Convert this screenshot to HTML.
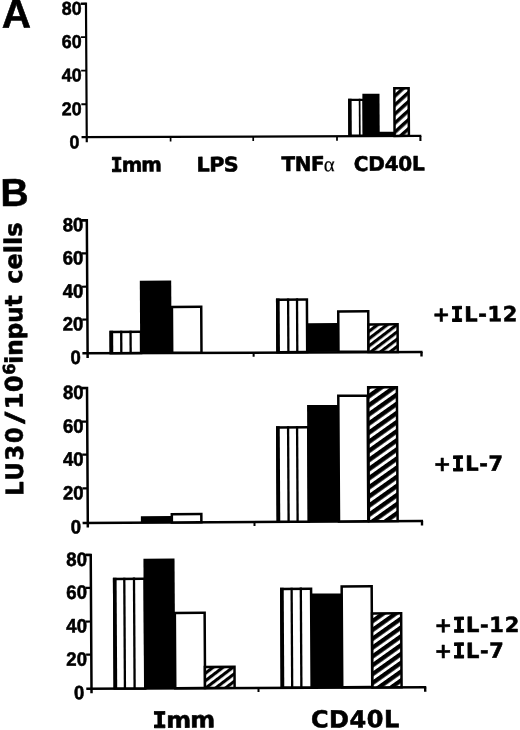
<!DOCTYPE html>
<html lang="en">
<head>
<meta charset="utf-8">
<title>Figure</title>
<style>
html,body{margin:0;padding:0;background:#fff;}
body{width:520px;height:730px;overflow:hidden;}
svg{display:block;filter:blur(0.4px);}
text{fill:#000;stroke:#000;stroke-width:0.55px;stroke-linejoin:round;}
.n{font-family:"Liberation Sans",sans-serif;font-weight:700;stroke-width:0.55px;}
.v{font-family:"DejaVu Sans","Liberation Sans",sans-serif;font-weight:700;}
.m{font-family:"DejaVu Sans Mono","Liberation Mono",monospace;font-weight:700;stroke-width:0.9px;}
.s{font-family:"Liberation Serif","DejaVu Serif",serif;font-weight:400;stroke-width:0.15px;}
</style>
</head>
<body>
<svg width="520" height="730" viewBox="0 0 520 730">
<defs>
<pattern id="hA" width="6.69" height="6.69" patternUnits="userSpaceOnUse" patternTransform="rotate(-42) translate(0 0.9)"><rect x="0" y="0" width="6.69" height="6.69" fill="#fff"/><rect x="0" y="0" width="6.69" height="3.48" fill="#000"/></pattern>
<pattern id="hB1" width="5.83" height="5.83" patternUnits="userSpaceOnUse" patternTransform="rotate(-37) translate(0 1.84)"><rect x="0" y="0" width="5.83" height="5.83" fill="#fff"/><rect x="0" y="0" width="5.83" height="3.21" fill="#000"/></pattern>
<pattern id="hB2" width="7.45" height="7.45" patternUnits="userSpaceOnUse" patternTransform="rotate(-35) translate(0 -2.05)"><rect x="0" y="0" width="7.45" height="7.45" fill="#fff"/><rect x="0" y="0" width="7.45" height="4.4" fill="#000"/></pattern>
<pattern id="hB3a" width="5.99" height="5.99" patternUnits="userSpaceOnUse" patternTransform="rotate(-37) translate(0 -0.5)"><rect x="0" y="0" width="5.99" height="5.99" fill="#fff"/><rect x="0" y="0" width="5.99" height="3.17" fill="#000"/></pattern>
<pattern id="hB3b" width="7.21" height="7.21" patternUnits="userSpaceOnUse" patternTransform="rotate(-35) translate(0 -0.95)"><rect x="0" y="0" width="7.21" height="7.21" fill="#fff"/><rect x="0" y="0" width="7.21" height="4.25" fill="#000"/></pattern>
</defs>
<rect x="0" y="0" width="520" height="730" fill="#fff"/>
<g transform="rotate(-0.33 260 365)">
<path d="M82.86 2.7H88.06V141.3" fill="none" stroke="#000" stroke-width="2.2" stroke-linejoin="miter"/>
<line x1="82.86" y1="136.2" x2="422.61" y2="136.9" stroke="#000" stroke-width="2.2"/>
<line x1="82.86" y1="2.7" x2="88.06" y2="2.7" stroke="#000" stroke-width="1.9"/>
<line x1="82.86" y1="36.1" x2="88.06" y2="36.1" stroke="#000" stroke-width="1.9"/>
<line x1="82.86" y1="69.6" x2="88.06" y2="69.6" stroke="#000" stroke-width="1.9"/>
<line x1="82.86" y1="103.2" x2="88.06" y2="103.2" stroke="#000" stroke-width="1.9"/>
<line x1="171.91" y1="136.38" x2="171.91" y2="140.88" stroke="#000" stroke-width="1.7"/>
<line x1="254.51" y1="136.55" x2="254.51" y2="141.05" stroke="#000" stroke-width="1.7"/>
<line x1="338.31" y1="136.73" x2="338.31" y2="141.23" stroke="#000" stroke-width="1.7"/>
<line x1="421.71" y1="136.9" x2="421.71" y2="142" stroke="#000" stroke-width="2.1"/>
<text transform="translate(83.62 13.57) scale(0.96 1)" font-size="18.6" text-anchor="end" class="n">80</text>
<text transform="translate(83.43 46.97) scale(0.96 1)" font-size="18.6" text-anchor="end" class="n">60</text>
<text transform="translate(83.23 80.47) scale(0.96 1)" font-size="18.6" text-anchor="end" class="n">40</text>
<text transform="translate(83.04 114.07) scale(0.96 1)" font-size="18.6" text-anchor="end" class="n">20</text>
<text transform="translate(80.75 147.36) scale(0.96 1)" font-size="18.6" text-anchor="end" class="n">0</text>
<rect x="350.73" y="100.46" width="14.4" height="35.75" fill="#fff" stroke="#000" stroke-width="2.2"/>
<rect x="349.63" y="99.36" width="3.5" height="36.85" fill="#000"/>
<rect x="360.28" y="99.36" width="1.7" height="36.85" fill="#000"/>
<rect x="363.94" y="94.44" width="17.1" height="41.76" fill="#000"/>
<rect x="380.33" y="132.5" width="15.4" height="3.7" fill="#000"/>
<rect x="395.91" y="89.07" width="14.3" height="47.64" fill="url(#hA)" stroke="#000" stroke-width="2.5"/>
<text transform="translate(111.91 170.94) scale(0.99 1)" font-size="20" class="v" text-anchor="start" letter-spacing="-1.1" ><tspan class="m">I</tspan>mm</text>
<text transform="translate(197.71 171.23) scale(1.04 1)" font-size="20" class="v" text-anchor="start" letter-spacing="-0.6" >LPS</text>
<text transform="translate(282.52 171.12) scale(1 1)" font-size="20" class="v" text-anchor="start" letter-spacing="-0.4" >TNF<tspan class="s" font-size="21" dx="-0.6" dy="0.5">α</tspan></text>
<text transform="translate(354.92 171.44) scale(1.005 1)" font-size="20" class="v" text-anchor="start" letter-spacing="-0.3" >CD40L</text>
<text transform="translate(3.64 26.21) scale(1 1)" font-size="40.5" class="n" text-anchor="start" letter-spacing="0" >A</text>
<text transform="translate(1.42 204.51) scale(1 1)" font-size="39" class="n" text-anchor="start" letter-spacing="0" >B</text>
<path d="M82.47 219.31H87.67V356.91" fill="none" stroke="#000" stroke-width="2.5" stroke-linejoin="miter"/>
<line x1="82.47" y1="352.31" x2="422.62" y2="352.91" stroke="#000" stroke-width="2.5"/>
<line x1="82.47" y1="219.31" x2="87.67" y2="219.31" stroke="#000" stroke-width="2.2"/>
<line x1="82.47" y1="252.41" x2="87.67" y2="252.41" stroke="#000" stroke-width="2.2"/>
<line x1="82.47" y1="285.71" x2="87.67" y2="285.71" stroke="#000" stroke-width="2.2"/>
<line x1="82.47" y1="318.51" x2="87.67" y2="318.51" stroke="#000" stroke-width="2.2"/>
<line x1="253.67" y1="352.61" x2="253.67" y2="356.61" stroke="#000" stroke-width="2"/>
<line x1="421.57" y1="352.91" x2="421.57" y2="357.51" stroke="#000" stroke-width="2.4"/>
<text transform="translate(84.17 230.28) scale(0.96 1)" font-size="19.4" text-anchor="end" class="n">80</text>
<text transform="translate(83.98 263.38) scale(0.96 1)" font-size="19.4" text-anchor="end" class="n">60</text>
<text transform="translate(83.79 296.68) scale(0.96 1)" font-size="19.4" text-anchor="end" class="n">40</text>
<text transform="translate(83.6 329.48) scale(0.96 1)" font-size="19.4" text-anchor="end" class="n">20</text>
<text transform="translate(80.81 362.87) scale(0.96 1)" font-size="19.4" text-anchor="end" class="n">0</text>
<rect x="110.89" y="331.18" width="30.3" height="21.13" fill="#fff" stroke="#000" stroke-width="2.5"/>
<rect x="109.64" y="329.93" width="3.7" height="22.38" fill="#000"/>
<rect x="120.24" y="329.93" width="2.3" height="22.38" fill="#000"/>
<rect x="129.59" y="329.93" width="2.3" height="22.38" fill="#000"/>
<rect x="140.28" y="280.1" width="31.4" height="72.21" fill="#000"/>
<rect x="172.26" y="306.53" width="29.3" height="45.78" fill="#fff" stroke="#000" stroke-width="2.5"/>
<rect x="277.58" y="299.84" width="29.7" height="52.47" fill="#fff" stroke="#000" stroke-width="2.5"/>
<rect x="276.33" y="298.59" width="3.7" height="53.72" fill="#000"/>
<rect x="287.33" y="298.59" width="2.3" height="53.72" fill="#000"/>
<rect x="296.23" y="298.59" width="2.3" height="53.72" fill="#000"/>
<rect x="307.96" y="323.46" width="30.5" height="28.84" fill="#000"/>
<rect x="338.54" y="311.99" width="30" height="40.32" fill="#fff" stroke="#000" stroke-width="2.5"/>
<rect x="368.61" y="325.06" width="29.2" height="27.65" fill="url(#hB1)" stroke="#000" stroke-width="2.5"/>
<path d="M81.69 387.01H86.89V526.51" fill="none" stroke="#000" stroke-width="2.5" stroke-linejoin="miter"/>
<line x1="81.69" y1="521.91" x2="422.14" y2="521.91" stroke="#000" stroke-width="2.5"/>
<line x1="81.69" y1="387.01" x2="86.89" y2="387.01" stroke="#000" stroke-width="2.2"/>
<line x1="81.69" y1="420.61" x2="86.89" y2="420.61" stroke="#000" stroke-width="2.2"/>
<line x1="81.69" y1="453.61" x2="86.89" y2="453.61" stroke="#000" stroke-width="2.2"/>
<line x1="81.69" y1="487.41" x2="86.89" y2="487.41" stroke="#000" stroke-width="2.2"/>
<line x1="253.59" y1="521.91" x2="253.59" y2="525.91" stroke="#000" stroke-width="2"/>
<line x1="421.09" y1="521.91" x2="421.09" y2="526.51" stroke="#000" stroke-width="2.4"/>
<text transform="translate(83.4 397.98) scale(0.96 1)" font-size="19.4" text-anchor="end" class="n">80</text>
<text transform="translate(83.21 431.58) scale(0.96 1)" font-size="19.4" text-anchor="end" class="n">60</text>
<text transform="translate(83.02 464.58) scale(0.96 1)" font-size="19.4" text-anchor="end" class="n">40</text>
<text transform="translate(82.83 498.38) scale(0.96 1)" font-size="19.4" text-anchor="end" class="n">20</text>
<text transform="translate(80.03 532.47) scale(0.96 1)" font-size="19.4" text-anchor="end" class="n">0</text>
<rect x="140.01" y="515.6" width="30.8" height="6.31" fill="#000"/>
<rect x="170.97" y="513.63" width="29.5" height="8.28" fill="#fff" stroke="#000" stroke-width="2.5"/>
<rect x="276.92" y="427.64" width="31" height="94.27" fill="#fff" stroke="#000" stroke-width="2.5"/>
<rect x="275.67" y="426.39" width="3.7" height="95.52" fill="#000"/>
<rect x="286.57" y="426.39" width="2.3" height="95.52" fill="#000"/>
<rect x="295.57" y="426.39" width="2.3" height="95.52" fill="#000"/>
<rect x="306.83" y="405.36" width="31.1" height="116.55" fill="#000"/>
<rect x="338.11" y="396.29" width="29.3" height="125.62" fill="#fff" stroke="#000" stroke-width="2.5"/>
<rect x="368.04" y="387.96" width="28.7" height="133.95" fill="url(#hB2)" stroke="#000" stroke-width="2.5"/>
<path d="M84.44 553.93H89.64V692.33" fill="none" stroke="#000" stroke-width="2.5" stroke-linejoin="miter"/>
<line x1="84.44" y1="687.73" x2="424.39" y2="688.13" stroke="#000" stroke-width="2.5"/>
<line x1="84.44" y1="553.93" x2="89.64" y2="553.93" stroke="#000" stroke-width="2.2"/>
<line x1="84.44" y1="586.83" x2="89.64" y2="586.83" stroke="#000" stroke-width="2.2"/>
<line x1="84.44" y1="620.53" x2="89.64" y2="620.53" stroke="#000" stroke-width="2.2"/>
<line x1="84.44" y1="653.63" x2="89.64" y2="653.63" stroke="#000" stroke-width="2.2"/>
<line x1="256.64" y1="687.93" x2="256.64" y2="691.93" stroke="#000" stroke-width="2"/>
<line x1="423.34" y1="688.13" x2="423.34" y2="692.73" stroke="#000" stroke-width="2.4"/>
<text transform="translate(85.84 564.9) scale(0.96 1)" font-size="19.4" text-anchor="end" class="n">80</text>
<text transform="translate(85.65 597.8) scale(0.96 1)" font-size="19.4" text-anchor="end" class="n">60</text>
<text transform="translate(85.46 631.5) scale(0.96 1)" font-size="19.4" text-anchor="end" class="n">40</text>
<text transform="translate(85.27 664.6) scale(0.96 1)" font-size="19.4" text-anchor="end" class="n">20</text>
<text transform="translate(82.47 698.29) scale(0.96 1)" font-size="19.4" text-anchor="end" class="n">0</text>
<rect x="112.91" y="578.1" width="30.5" height="109.63" fill="#fff" stroke="#000" stroke-width="2.5"/>
<rect x="111.66" y="576.85" width="3.7" height="110.88" fill="#000"/>
<rect x="121.91" y="576.85" width="2.3" height="110.88" fill="#000"/>
<rect x="131.61" y="576.85" width="2.3" height="110.88" fill="#000"/>
<rect x="142.31" y="558.02" width="31.1" height="129.71" fill="#000"/>
<rect x="173.41" y="612.45" width="29.8" height="75.28" fill="#fff" stroke="#000" stroke-width="2.5"/>
<rect x="203.15" y="666.72" width="29.6" height="21.01" fill="url(#hB3a)" stroke="#000" stroke-width="2.5"/>
<rect x="279.98" y="589.06" width="29.8" height="98.67" fill="#fff" stroke="#000" stroke-width="2.5"/>
<rect x="278.73" y="587.81" width="3.7" height="99.92" fill="#000"/>
<rect x="289.18" y="587.81" width="2.3" height="99.92" fill="#000"/>
<rect x="298.38" y="587.81" width="2.3" height="99.92" fill="#000"/>
<rect x="309.91" y="593.88" width="30.3" height="93.85" fill="#000"/>
<rect x="340.39" y="586.91" width="30" height="100.82" fill="#fff" stroke="#000" stroke-width="2.5"/>
<rect x="370.61" y="614.08" width="29.1" height="73.95" fill="url(#hB3b)" stroke="#000" stroke-width="2.5"/>
<text transform="translate(150.51 727.08) scale(1.07 1)" font-size="22.4" class="v" text-anchor="start" letter-spacing="-0.8" ><tspan class="m">I</tspan>mm</text>
<text transform="translate(308.81 727.89) scale(1.025 1)" font-size="23.5" class="v" text-anchor="start" letter-spacing="0.5" >CD40L</text>
<text transform="translate(432.85 322.59) scale(1.01 1)" font-size="20.8" class="v" text-anchor="start" letter-spacing="0.65" >+<tspan class="m">I</tspan>L-12</text>
<text transform="translate(432.99 472) scale(1.01 1)" font-size="20.8" class="v" text-anchor="start" letter-spacing="0.65" >+<tspan class="m">I</tspan>L-7</text>
<text transform="translate(432.86 633.3) scale(1.01 1)" font-size="20.8" class="v" text-anchor="start" letter-spacing="0.65" >+<tspan class="m">I</tspan>L-12</text>
<text transform="translate(432.71 659.1) scale(1.01 1)" font-size="20.8" class="v" text-anchor="start" letter-spacing="0.65" >+<tspan class="m">I</tspan>L-7</text>
<text transform="translate(22.4 494.44) rotate(-90) scale(0.94 1)" font-size="24" class="v" letter-spacing="1.85" >LU30</text>
<text transform="translate(22.4 422.53) rotate(-90) scale(1.42 1.02)" font-size="24" class="v" letter-spacing="0" >/</text>
<text transform="translate(22.4 407.53) rotate(-90)" font-size="24" class="v" letter-spacing="0.3" >10</text>
<text transform="translate(15 373.29) rotate(-90)" font-size="16.5" class="v" letter-spacing="0" >6</text>
<text transform="translate(22.4 362.33) rotate(-90) scale(0.965 1)" font-size="24" class="v" letter-spacing="0" >input</text>
<text transform="translate(22.4 282.43) rotate(-90)" font-size="24" class="v" letter-spacing="0" >cells</text>
</g>
</svg>
</body>
</html>
